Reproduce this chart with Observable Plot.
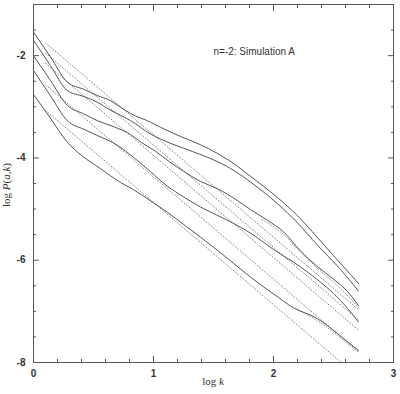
<!DOCTYPE html>
<html><head><meta charset="utf-8">
<script src="https://cdn.jsdelivr.net/npm/d3@7"></script>
<script src="https://cdn.jsdelivr.net/npm/@observablehq/plot@0.6"></script>
<style>body{margin:0;background:#fff}#chart{position:relative;width:400px;height:394px}</style>
</head><body><div id="chart"></div>
<script>
// Nonlinear power spectra (solid), [log k, log P]
const curve1 = [[0,-1.54],[0.14,-2.02],[0.283,-2.52],[0.42,-2.66],[0.531,-2.78],[0.642,-2.88],[0.72,-3.0],[0.808,-3.13],[0.975,-3.30],[1.058,-3.40],[1.225,-3.58],[1.38,-3.73],[1.531,-3.91],[1.68,-4.13],[1.808,-4.36],[2.031,-4.77],[2.2,-5.13],[2.364,-5.55],[2.5,-5.91],[2.642,-6.28],[2.711,-6.46]];
const curve2 = [[0,-1.70],[0.14,-2.19],[0.281,-2.68],[0.42,-2.80],[0.531,-2.91],[0.614,-3.03],[0.808,-3.27],[0.975,-3.53],[1.058,-3.63],[1.25,-3.81],[1.4,-3.94],[1.531,-4.07],[1.68,-4.26],[1.808,-4.47],[2.031,-4.89],[2.2,-5.27],[2.364,-5.70],[2.558,-6.18],[2.708,-6.60]];
const curve3 = [[0,-2.0],[0.14,-2.48],[0.281,-2.97],[0.42,-3.14],[0.531,-3.27],[0.68,-3.40],[0.808,-3.54],[0.9,-3.70],[1.017,-3.87],[1.13,-4.07],[1.25,-4.26],[1.392,-4.46],[1.531,-4.60],[1.697,-4.83],[1.808,-5.01],[1.95,-5.22],[2.086,-5.45],[2.225,-5.82],[2.364,-6.12],[2.5,-6.37],[2.62,-6.62],[2.708,-6.89]];
const curve4 = [[0,-2.29],[0.14,-2.78],[0.281,-3.27],[0.42,-3.44],[0.531,-3.56],[0.697,-3.75],[0.84,-4.0],[0.975,-4.27],[1.114,-4.55],[1.25,-4.76],[1.392,-4.96],[1.53,-5.12],[1.667,-5.28],[1.808,-5.47],[2.0,-5.79],[2.225,-6.13],[2.36,-6.37],[2.5,-6.65],[2.62,-6.95],[2.708,-7.21]];
const curve5 = [[0,-2.76],[0.14,-3.22],[0.281,-3.69],[0.4,-3.95],[0.558,-4.21],[0.725,-4.48],[0.833,-4.62],[0.97,-4.83],[1.114,-5.06],[1.25,-5.30],[1.392,-5.55],[1.53,-5.80],[1.667,-6.06],[1.808,-6.33],[2.0,-6.66],[2.167,-6.93],[2.364,-7.14],[2.531,-7.43],[2.62,-7.60],[2.708,-7.76]];
const curves = [curve1, curve2, curve3, curve4, curve5];

// Linear-theory spectra (dotted straight lines), endpoints [log k, log P]
const linear1 = [[0.1,-1.75],[2.71,-6.97]];
const linear2 = [[0.1,-1.95],[2.71,-7.17]];
const linear3 = [[0.1,-2.15],[2.71,-7.37]];
const linear4 = [[0.1,-2.57],[2.71,-7.79]];
const linear5 = [[0.1,-3.07],[2.565,-8.0]];
const linears = [linear1, linear2, linear3, linear4, linear5];

// Dotted fitting-formula curves hugging two of the spectra
const fit3 = [[1.9,-5.20],[2.086,-5.50],[2.225,-5.84],[2.364,-6.15],[2.5,-6.43],[2.62,-6.70],[2.71,-6.93]];
const fit5 = [[2.2,-6.96],[2.364,-7.18],[2.5,-7.41],[2.6,-7.60],[2.71,-7.80]];
const fits = [fit3, fit5];

// Ticks
const xMajor = [0, 1, 2, 3];
const xMinor = [0.2,0.4,0.6,0.8,1.2,1.4,1.6,1.8,2.2,2.4,2.6,2.8];
const yMajor = [-8, -6, -4, -2];
const yMinor = [-7.5,-7,-6.5,-5.5,-5,-4.5,-3.5,-3,-2.5,-1.5];
const xTickLabels = ["0","1","2","3"];
const yTickLabels = ["-8","-6","-4","-2"];
const annotation = "n=-2: Simulation A";

const tickColor = "#555";
const noLabel = () => "";

const marks = [
  Plot.frame({stroke: tickColor, strokeWidth: 1}),
  ...["bottom","top"].flatMap(a => [
    Plot.axisX({anchor: a, ticks: xMinor, tickSize: -3, tickFormat: noLabel, label: null, stroke: tickColor}),
    Plot.axisX({anchor: a, ticks: xMajor, tickSize: -6, tickFormat: noLabel, label: null, stroke: tickColor})
  ]),
  ...["left","right"].flatMap(a => [
    Plot.axisY({anchor: a, ticks: yMinor, tickSize: -3, tickFormat: noLabel, label: null, stroke: tickColor}),
    Plot.axisY({anchor: a, ticks: yMajor, tickSize: -6, tickFormat: noLabel, label: null, stroke: tickColor})
  ]),
  Plot.axisX({anchor: "bottom", ticks: xMajor, tickSize: 0, tickPadding: 7, label: null,
    tickFormat: (d, i) => xTickLabels[i], fontWeight: "bold", fill: "#333"}),
  Plot.axisY({anchor: "left", ticks: yMajor, tickSize: 0, tickPadding: 8, label: null,
    tickFormat: (d, i) => yTickLabels[i], fontWeight: "bold", fill: "#333"}),
  ...linears.map(l => Plot.line(l, {stroke: "#888", strokeWidth: 1, strokeDasharray: "1,2.2", clip: true})),
  ...fits.map(l => Plot.line(l, {stroke: "#999", strokeWidth: 1, strokeDasharray: "1,1.8", curve: "monotone-x"})),
  ...curves.map(c => Plot.line(c, {stroke: "#555", strokeWidth: 1, curve: "monotone-x"})),
  Plot.text([annotation], {x: 1.5, y: -1.93, text: d => d, textAnchor: "start", fontSize: 10, fill: "#333"})
];

const chart = Plot.plot({
  width: 400, height: 394,
  marginLeft: 33, marginRight: 7, marginTop: 4, marginBottom: 32,
  x: {domain: [0, 3]},
  y: {domain: [-8, -1]},
  style: {fontFamily: "'Liberation Sans', Arial, sans-serif", fontSize: "10px", background: "#fff"},
  marks
});

const svg = d3.select(chart);
const ylab = svg.append("text")
  .attr("transform", "translate(10,185) rotate(-90)")
  .attr("text-anchor", "middle")
  .attr("font-family", "'Liberation Serif', 'DejaVu Serif', serif")
  .attr("font-size", 11).attr("fill", "#333");
ylab.append("tspan").text("log ");
ylab.append("tspan").attr("font-style", "italic").text("P");
ylab.append("tspan").text("(");
ylab.append("tspan").attr("font-style", "italic").text("a");
ylab.append("tspan").text(",");
ylab.append("tspan").attr("font-style", "italic").text("k");
ylab.append("tspan").text(")");

const xlab = svg.append("text")
  .attr("x", 213).attr("y", 385)
  .attr("text-anchor", "middle")
  .attr("font-family", "'Liberation Serif', 'DejaVu Serif', serif")
  .attr("font-size", 11).attr("fill", "#333");
xlab.append("tspan").text("log ");
xlab.append("tspan").attr("font-style", "italic").text("k");

document.getElementById("chart").appendChild(chart);
</script>
</body></html>
